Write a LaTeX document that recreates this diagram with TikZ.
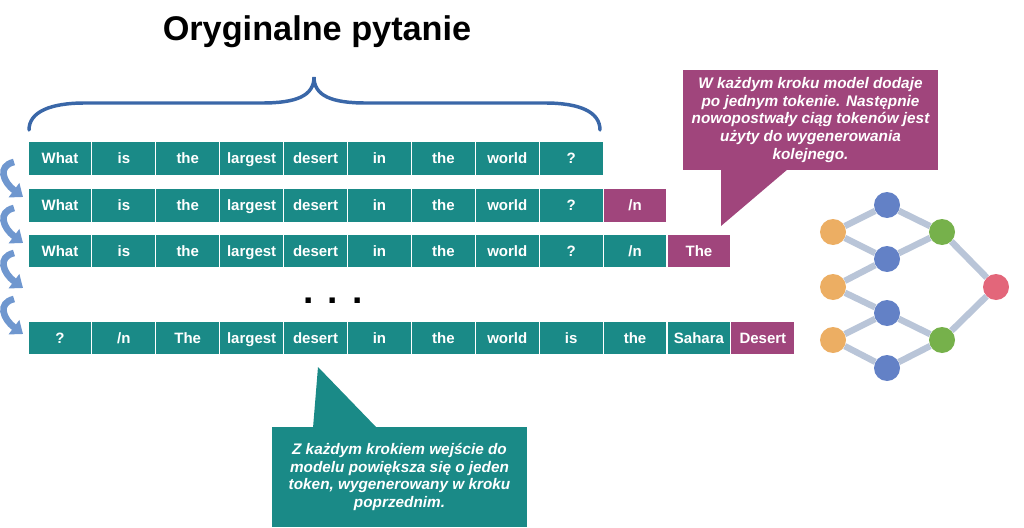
\documentclass[tikz,border=0pt]{standalone}
\usepackage{fontspec}
\setmainfont{Liberation Sans}
\usetikzlibrary{arrows.meta}

\definecolor{tokteal}{HTML}{1A8A87}
\definecolor{tokpurple}{HTML}{A0457C}
\definecolor{braceblue}{HTML}{3A67A8}
\definecolor{arrowblue}{HTML}{6F97CF}
\definecolor{edgegrey}{HTML}{B9C5D8}
\definecolor{inorange}{HTML}{ECAE63}
\definecolor{hidblue}{HTML}{6381C6}
\definecolor{midgreen}{HTML}{76B14B}
\definecolor{outred}{HTML}{E3667A}

\tikzset{
  tok/.style={draw=white, line width=0.8pt, fill=tokteal, text=white,
    minimum width=47.9pt, minimum height=25.5pt, inner sep=0pt,
    text height=9.6pt, text depth=2pt,
    font=\fontsize{11.25}{13}\selectfont\bfseries},
  newtok/.style={tok, fill=tokpurple},
  note/.style={text=white, minimum width=191.25pt, minimum height=75pt,
    align=center, inner sep=0pt, font=\fontsize{11.5}{13.3}\selectfont\bfseries\itshape},
  steparrow/.style={arrowblue, line width=5pt, -{Triangle[length=8.5pt,width=13pt]}},
  neuron/.style={circle, minimum size=19.5pt, inner sep=0pt},
  link/.style={edgegrey, line width=4.8pt}
}

\begin{document}
\begin{tikzpicture}[x=0.75pt, y=-0.75pt]
  \useasboundingbox (0,0) rectangle (1024,528);

  \node[font=\fontsize{25.7}{30}\selectfont\bfseries] (title) at (317,32) {Oryginalne pytanie};

  % brace over the question
  \draw[braceblue, line width=2.6pt, line cap=round]
    (29,130) .. controls (29,112) and (50,103) .. (85,103) -- (262,103)
    .. controls (296,103) and (314,96) .. (314,77)
    .. controls (314,96) and (332,103) .. (366,103) -- (545,103)
    .. controls (580,103) and (600,112) .. (600,130);

  % token rows
  \foreach \w [count=\i] in {What,is,the,largest,desert,in,the,world,?}
    \node[tok] (ra\i) at ({28+63.9*(\i-0.5)},158.5) {\w};

  \foreach \w [count=\i] in {What,is,the,largest,desert,in,the,world,?}
    \node[tok] (rb\i) at ({28+63.9*(\i-0.5)},205.5) {\w};
  \node[newtok] (rb10) at ({28+63.9*9.5},205.5) {/n};

  \foreach \w [count=\i] in {What,is,the,largest,desert,in,the,world,?,/n}
    \node[tok] (rc\i) at ({28+63.9*(\i-0.5)},251) {\w};
  \node[newtok] (rc11) at ({28+63.9*10.5},251) {The};

  \node[font=\fontsize{28}{30}\selectfont\bfseries] (dots) at (333,301) {. . .};

  \foreach \w [count=\i] in {?,/n,The,largest,desert,in,the,world,is,the,Sahara}
    \node[tok] (rd\i) at ({28+63.9*(\i-0.5)},338) {\w};
  \node[newtok] (rd12) at ({28+63.9*11.5},338) {Desert};

  % step arrows on the left
  \coordinate (s1) at (14,162);  \coordinate (e1) at (23,197);
  \coordinate (s2) at (14,208);  \coordinate (e2) at (23,243);
  \coordinate (s3) at (14,253);  \coordinate (e3) at (23,288);
  \coordinate (s4) at (14,299);  \coordinate (e4) at (23,334);
  \foreach \k in {1,...,4}
    \draw[steparrow] (s\k) .. controls +(-17,4) and +(-20,-15) .. (e\k);

  % callouts
  \node[note, fill=tokpurple] (note1) at (810.5,120)
    {W każdym kroku model dodaje\\po jednym tokenie. Następnie\\nowopostwały ciąg tokenów jest\\użyty do wygenerowania\\kolejnego.};
  \coordinate (tip1) at (721,226);
  \fill[tokpurple] (721,169) -- (tip1) -- (788,169) -- cycle;

  \node[note, fill=tokteal] (note2) at (399.5,477)
    {Z każdym krokiem wejście do\\modelu powiększa się o jeden\\token, wygenerowany w kroku\\poprzednim.};
  \coordinate (tip2) at (318,367);
  \fill[tokteal] (313,428) -- (tip2) -- (377,428) -- cycle;

  % network
  \node[neuron, fill=inorange] (in1) at (833,232) {};
  \node[neuron, fill=inorange] (in2) at (833,287) {};
  \node[neuron, fill=inorange] (in3) at (833,340) {};
  \node[neuron, fill=hidblue] (hid1) at (887,205) {};
  \node[neuron, fill=hidblue] (hid2) at (887,259) {};
  \node[neuron, fill=hidblue] (hid3) at (887,313) {};
  \node[neuron, fill=hidblue] (hid4) at (887,368) {};
  \node[neuron, fill=midgreen] (mid1) at (942,232) {};
  \node[neuron, fill=midgreen] (mid2) at (942,340) {};
  \node[neuron, fill=outred] (out) at (996,287) {};

  \draw[link] (in1) -- (hid1);  \draw[link] (in1) -- (hid2);
  \draw[link] (in2) -- (hid2);  \draw[link] (in2) -- (hid3);
  \draw[link] (in3) -- (hid3);  \draw[link] (in3) -- (hid4);
  \draw[link] (hid1) -- (mid1); \draw[link] (hid2) -- (mid1);
  \draw[link] (hid3) -- (mid2); \draw[link] (hid4) -- (mid2);
  \draw[link] (mid1) -- (out);  \draw[link] (mid2) -- (out);

\end{tikzpicture}
\end{document}
